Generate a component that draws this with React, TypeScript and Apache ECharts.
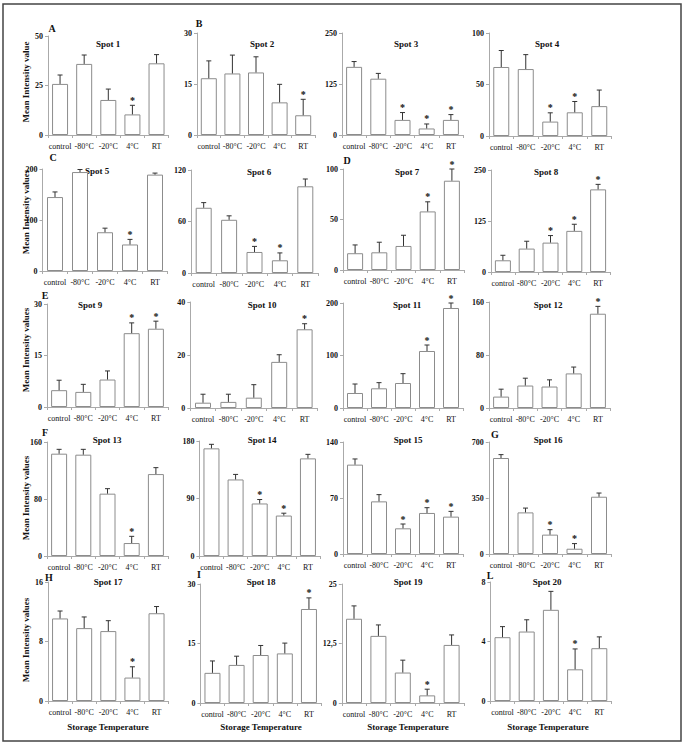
import React, { useEffect, useRef } from 'react';
import * as echarts from 'echarts';

const FONT = '"Liberation Serif", "Times New Roman", serif';

const categories = ['control', '-80°C', '-20°C', '4°C', 'RT'];

// Mean values, error (upper SD) and significant categories (index) per spot
const spot1Mean = [25.8, 35.9, 17.7, 10.4, 36.2];
const spot1Err = [4.5, 4.5, 5.5, 4.6, 4.4];
const spot1Star = [3];
const spot2Mean = [16.7, 18.1, 18.4, 9.6, 5.8];
const spot2Err = [5.1, 5.4, 4.6, 5.3, 4.7];
const spot2Star = [4];
const spot3Mean = [167, 138, 37, 16, 37];
const spot3Err = [13, 13, 18, 11, 13];
const spot3Star = [2, 3, 4];
const spot4Mean = [67, 65, 14, 23, 29];
const spot4Err = [16, 14, 8.5, 10.5, 15.6];
const spot4Star = [2, 3];
const spot5Mean = [145, 194, 76, 52, 189];
const spot5Err = [10, 5, 8, 10, 3];
const spot5Star = [3];
const spot6Mean = [76, 62, 24.5, 14.8, 101];
const spot6Err = [6, 4.6, 6.5, 8.6, 8.5];
const spot6Star = [2, 3];
const spot7Mean = [16.6, 17.5, 23.8, 58, 88.4];
const spot7Err = [8.2, 10, 10.6, 9.5, 11.6];
const spot7Star = [3, 4];
const spot8Mean = [28.7, 57.4, 72, 100.8, 202.5];
const spot8Err = [12.3, 18, 17.3, 16.2, 12.3];
const spot8Star = [2, 3, 4];
const spot9Mean = [4.9, 4.4, 8.0, 21.5, 22.8];
const spot9Err = [2.9, 2.2, 2.5, 3.0, 2.2];
const spot9Star = [3, 4];
const spot10Mean = [2.0, 2.3, 3.9, 17.4, 29.7];
const spot10Err = [3.2, 2.9, 4.9, 2.7, 2.1];
const spot10Star = [4];
const spot11Mean = [28.6, 37.5, 47.6, 108.6, 190.5];
const spot11Err = [17.1, 10.8, 17.8, 11.4, 9.5];
const spot11Star = [3, 4];
const spot12Mean = [17.2, 33.9, 32.4, 52.2, 142.3];
const spot12Err = [11.2, 11.1, 10.1, 9.6, 11.1];
const spot12Star = [4];
const spot13Mean = [143.6, 142.2, 87.5, 18.2, 115];
const spot13Err = [6.1, 7.5, 7, 9.4, 9];
const spot13Star = [3];
const spot14Mean = [168.5, 119.8, 82.2, 63.3, 152.8];
const spot14Err = [6.3, 7.9, 6.2, 3.7, 6.3];
const spot14Star = [2, 3];
const spot15Mean = [111.7, 65.8, 32.1, 51.3, 46.7];
const spot15Err = [7.1, 8.4, 5.4, 6.6, 6.6];
const spot15Star = [2, 3, 4];
const spot16Mean = [600, 260, 121, 33, 358];
const spot16Err = [21, 27, 31, 32, 23];
const spot16Star = [2, 3];
const spot17Mean = [11.1, 9.8, 9.4, 3.15, 11.8];
const spot17Err = [1.0, 1.5, 1.4, 1.45, 0.9];
const spot17Star = [3];
const spot18Mean = [7.6, 9.6, 12.1, 12.5, 23.7];
const spot18Err = [3.0, 2.2, 2.4, 2.6, 2.8];
const spot18Star = [4];
const spot19Mean = [17.7, 14.1, 6.4, 1.6, 12.2];
const spot19Err = [2.7, 2.3, 2.6, 1.3, 2.1];
const spot19Star = [3];
const spot20Mean = [4.29, 4.67, 6.13, 2.13, 3.55];
const spot20Err = [0.71, 0.79, 1.24, 1.37, 0.76];
const spot20Star = [3];

// axis maxima (ticks at 0, max/2, max)
const axisMax = [50, 30, 250, 100, 200, 120, 100, 250, 30, 40, 200, 160, 160, 180, 140, 700, 16, 30, 25, 8];

const spotTitles = Array.from({ length: 20 }, (_, i) => `Spot ${i + 1}`);

const spots = [
  [spot1Mean, spot1Err, spot1Star],
  [spot2Mean, spot2Err, spot2Star],
  [spot3Mean, spot3Err, spot3Star],
  [spot4Mean, spot4Err, spot4Star],
  [spot5Mean, spot5Err, spot5Star],
  [spot6Mean, spot6Err, spot6Star],
  [spot7Mean, spot7Err, spot7Star],
  [spot8Mean, spot8Err, spot8Star],
  [spot9Mean, spot9Err, spot9Star],
  [spot10Mean, spot10Err, spot10Star],
  [spot11Mean, spot11Err, spot11Star],
  [spot12Mean, spot12Err, spot12Star],
  [spot13Mean, spot13Err, spot13Star],
  [spot14Mean, spot14Err, spot14Star],
  [spot15Mean, spot15Err, spot15Star],
  [spot16Mean, spot16Err, spot16Star],
  [spot17Mean, spot17Err, spot17Star],
  [spot18Mean, spot18Err, spot18Star],
  [spot19Mean, spot19Err, spot19Star],
  [spot20Mean, spot20Err, spot20Star],
];

// layout: [left, top, width, height] of each plot area
const panelBoxes = [
  [48, 36, 120.6, 99], [197, 33, 118, 102], [342, 33, 121, 102], [489, 33, 122.5, 103],
  [42.5, 169, 125, 102], [191, 170, 127, 103], [343, 169, 121, 101], [491, 170, 119, 102],
  [47, 304, 121, 103], [190.3, 302, 127, 106], [343, 303, 120, 105], [489, 302, 121, 106],
  [47, 442, 121, 114], [199.4, 441, 120.6, 115], [343, 442, 120, 112], [488.75, 442, 122.5, 112],
  [48, 582, 120.6, 119], [200.4, 584, 120.6, 119], [341.8, 584, 122, 119], [490.4, 582, 121, 119],
];
const titlePos = [
  [108, 44], [262, 44], [406, 44], [547, 44],
  [97, 171], [259, 172], [407, 172], [546, 172],
  [90, 305], [262, 305], [407, 305], [548, 305],
  [107, 440], [262, 440], [408, 440], [548, 440],
  [108, 582], [261, 582], [408, 582], [547, 582],
];
const panelLetters = ['A', 'B', 'C', 'D', 'E', 'F', 'G', 'H', 'I', 'L'];
const letterPos = [
  [52, 28], [199, 23], [53, 157], [347, 160], [45, 295], [45, 432], [495, 434], [49, 577], [199, 574], [490, 575],
];
const yNameRows = [82, 212, 350, 498, 640];
const yNameTexts = ['Mean Intensity value', 'Mean Intensity values', 'Mean Intensity values', 'Mean Intensity values', 'Mean Intensity values'];

export default function App() {
  const ref = useRef<HTMLDivElement>(null);
  useEffect(() => {
    const chart = echarts.init(ref.current!, null, { renderer: 'svg' });
    const grid: any[] = [];
    const xAxis: any[] = [];
    const yAxis: any[] = [];
    const series: any[] = [];
    spots.forEach((s, i) => {
      const [mean, err, star] = s as [number[], number[], number[]];
      const [l, t, w, h] = panelBoxes[i];
      grid.push({ left: l, top: t, width: w, height: h });
      xAxis.push({
        type: 'category', gridIndex: i, data: categories,
        axisLine: { lineStyle: { color: '#aaa', width: 1 } },
        axisTick: { show: true, length: 3, lineStyle: { color: '#aaa' } },
        axisLabel: { fontFamily: FONT, fontSize: 8, color: '#111', margin: 7, interval: 0 },
      });
      yAxis.push({
        type: 'value', gridIndex: i, min: 0, max: axisMax[i], interval: axisMax[i] / 2,
        axisLine: { show: true, lineStyle: { color: '#aaa' } },
        axisTick: { show: true, length: 3, lineStyle: { color: '#aaa' } },
        splitLine: { show: false },
        axisLabel: {
          fontFamily: FONT, fontSize: 8, fontWeight: 'bold', color: '#111', margin: 5,
          formatter: (v: number) => String(v).replace('.', ','),
        },
      });
      series.push({
        type: 'bar', xAxisIndex: i, yAxisIndex: i, data: mean, barWidth: 16, silent: true,
        itemStyle: { color: '#fff', borderColor: '#8c8c8c', borderWidth: 1 },
      });
      series.push({
        type: 'custom', xAxisIndex: i, yAxisIndex: i, silent: true, z: 5,
        data: mean.map((m, k) => [k, m, err[k], star.includes(k) ? 1 : 0]),
        renderItem: (params: any, api: any) => {
          const idx = api.value(0);
          const m = api.value(1);
          const e = api.value(2);
          const st = api.value(3);
          const p0 = api.coord([idx, m]);
          const p1 = api.coord([idx, m + e]);
          const children: any[] = [
            { type: 'line', shape: { x1: p0[0], y1: p0[1], x2: p1[0], y2: p1[1] }, style: { stroke: '#333', lineWidth: 1 } },
            { type: 'line', shape: { x1: p1[0] - 2.5, y1: p1[1], x2: p1[0] + 2.5, y2: p1[1] }, style: { stroke: '#333', lineWidth: 1 } },
          ];
          if (st) {
            children.push({
              type: 'text', x: p1[0], y: p1[1] - 5,
              style: { text: '*', font: `bold 10px ${FONT}`, fill: '#111', textAlign: 'center', textVerticalAlign: 'middle' },
            });
          }
          return { type: 'group', children };
        },
      });
    });

    const graphic: any[] = [
      { type: 'rect', shape: { x: 3, y: 4, width: 678, height: 737 }, style: { fill: 'none', stroke: '#444', lineWidth: 1.5 }, silent: true },
    ];
    spotTitles.forEach((t, i) => {
      graphic.push({
        type: 'text', x: titlePos[i][0], y: titlePos[i][1],
        style: { text: t, font: `bold 9px ${FONT}`, fill: '#111', textAlign: 'center', textVerticalAlign: 'middle' },
      });
    });
    panelLetters.forEach((t, i) => {
      graphic.push({
        type: 'text', x: letterPos[i][0], y: letterPos[i][1],
        style: { text: t, font: `bold 10px ${FONT}`, fill: '#111', textAlign: 'center', textVerticalAlign: 'middle' },
      });
    });
    yNameRows.forEach((y, i) => {
      graphic.push({
        type: 'text', x: 26, y, rotation: Math.PI / 2,
        style: { text: yNameTexts[i], font: `bold 9px ${FONT}`, fill: '#111', textAlign: 'center', textVerticalAlign: 'middle' },
      });
    });
    [[108, 727], [261, 727], [408, 727], [548, 727]].forEach(([x, y]) => {
      graphic.push({
        type: 'text', x, y,
        style: { text: 'Storage Temperature', font: `bold 9px ${FONT}`, fill: '#111', textAlign: 'center', textVerticalAlign: 'middle' },
      });
    });

    chart.setOption({ animation: false, backgroundColor: '#fff', grid, xAxis, yAxis, series, graphic });
    return () => chart.dispose();
  }, []);
  return <div ref={ref} style={{ position: 'fixed', left: 0, top: 0, width: 685, height: 746, background: '#fff' }} />;
}
